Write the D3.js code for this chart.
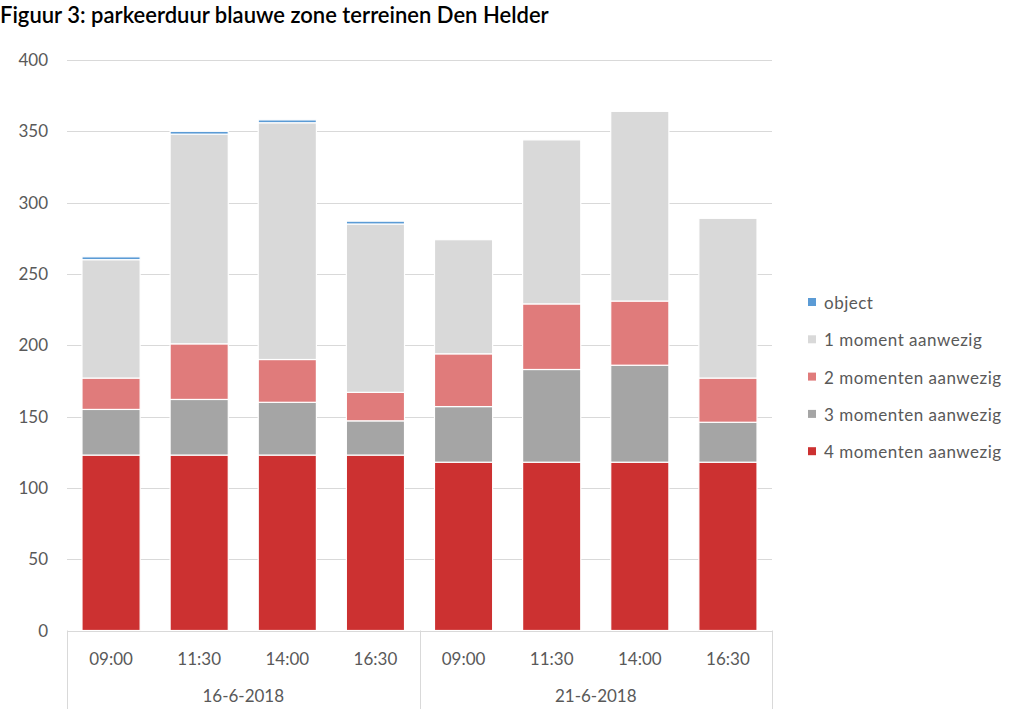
<!DOCTYPE html>
<html>
<head>
<meta charset="utf-8">
<script src="https://cdn.jsdelivr.net/npm/d3@7"></script>
<style>
  body { margin: 0; background: #fff; }
  svg text { font-family: Lato, "Noto Sans", sans-serif; }
</style>
</head>
<body>
<div id="chart"></div>
<script>
(function(d3) {
    'use strict';

    // Data
    var times = ['09:00', '11:30', '14:00', '16:30', '09:00', '11:30', '14:00', '16:30'];
    var dates = ['16-6-2018', '21-6-2018'];
    var seriesNames = ['4 momenten aanwezig', '3 momenten aanwezig', '2 momenten aanwezig',
        '1 moment aanwezig', 'object'];
    var vier = [123, 123, 123, 123, 118, 118, 118, 118];
    var drie = [32, 39, 37, 24, 39, 65, 68, 28];
    var twee = [22, 39, 30, 20, 37, 46, 45, 31];
    var een = [83, 147, 166, 118, 80, 115, 133, 112];
    var object = [2, 2, 2, 2, 0, 0, 0, 0];
    var yTicks = [0, 50, 100, 150, 200, 250, 300, 350, 400];

    var colors = ['#cc3131', '#a5a5a5', '#e07b7b', '#d9d9d9', '#5b9bd5'];

    var width = 1024;
    var height = 709;
    var left = 67, right = 772, top = 60, bottom = 630.5;

    var svg = d3.select('#chart')
        .append('svg')
        .attr('width', width)
        .attr('height', height);

    // Title
    svg.append('text')
        .attr('x', 0)
        .attr('y', 23)
        .style('font-size', '22px')
        .style('font-weight', '600')
        .style('fill', '#000')
        .text('Figuur 3: parkeerduur blauwe zone terreinen Den Helder');

    // Build table for stacking
    var table = times.map(function(t, i) {
        return { idx: i, s0: vier[i], s1: drie[i], s2: twee[i], s3: een[i], s4: object[i] };
    });
    var stack = d3.stack().keys(['s0', 's1', 's2', 's3', 's4']);
    var layers = stack(table);

    var x = d3.scaleBand()
        .domain(d3.range(times.length))
        .range([left, right])
        .paddingInner(0.34)
        .paddingOuter(0.17);

    var y = d3.scaleLinear()
        .domain([0, 400])
        .range([bottom, top]);

    // Gridlines
    svg.append('g')
        .selectAll('line')
        .data(yTicks.slice(1))
        .enter()
        .append('line')
        .attr('x1', left)
        .attr('x2', right)
        .attr('y1', function(d) { return Math.round(y(d)) + 0.5; })
        .attr('y2', function(d) { return Math.round(y(d)) + 0.5; })
        .style('stroke', '#d9d9d9')
        .style('stroke-width', 1);

    // Y tick labels
    svg.append('g')
        .selectAll('text')
        .data(yTicks)
        .enter()
        .append('text')
        .attr('x', 48)
        .attr('y', function(d) { return y(d) + 6; })
        .attr('text-anchor', 'end')
        .style('font-size', '17px')
        .style('fill', '#595959')
        .text(function(d) { return d; });

    // Bars
    svg.append('g')
        .selectAll('g')
        .data(layers)
        .enter()
        .append('g')
        .attr('fill', function(d, i) { return colors[i]; })
        .selectAll('rect')
        .data(function(d) { return d; })
        .enter()
        .filter(function(d) { return d[1] - d[0] > 0; })
        .append('rect')
        .attr('x', function(d) { return x(d.data.idx); })
        .attr('width', x.bandwidth())
        .attr('y', function(d) { return y(d[1]); })
        .attr('height', function(d) { return y(d[0]) - y(d[1]); })
        .style('stroke', '#fff')
        .style('stroke-width', 1.2);

    // X axis line and category separators
    var axis = svg.append('g');
    axis.append('line')
        .attr('x1', left).attr('x2', right)
        .attr('y1', Math.round(bottom) + 0.5).attr('y2', Math.round(bottom) + 0.5)
        .style('stroke', '#d9d9d9');

    var step = x.step();
    var groupSize = times.length / dates.length;
    var seps = d3.range(dates.length + 1).map(function(i) { return left + i * groupSize * step; });
    axis.selectAll('.sep')
        .data(seps)
        .enter()
        .append('line')
        .attr('class', 'sep')
        .attr('x1', function(d) { return Math.round(d) + 0.5; })
        .attr('x2', function(d) { return Math.round(d) + 0.5; })
        .attr('y1', bottom)
        .attr('y2', height)
        .style('stroke', '#d9d9d9');

    axis.selectAll('.time')
        .data(times)
        .enter()
        .append('text')
        .attr('class', 'time')
        .attr('x', function(d, i) { return x(i) + x.bandwidth() / 2; })
        .attr('y', 665)
        .attr('text-anchor', 'middle')
        .style('font-size', '17px')
        .style('fill', '#595959')
        .text(function(d) { return d; });

    axis.selectAll('.date')
        .data(dates)
        .enter()
        .append('text')
        .attr('class', 'date')
        .attr('x', function(d, i) { return (seps[i] + seps[i + 1]) / 2; })
        .attr('y', 702)
        .attr('text-anchor', 'middle')
        .style('font-size', '17px')
        .style('fill', '#595959')
        .text(function(d) { return d; });

    // Legend (top entry is 'object')
    var legendOrder = [4, 3, 2, 1, 0];
    var legend = svg.selectAll('.legend')
        .data(legendOrder)
        .enter()
        .append('g')
        .attr('class', 'legend')
        .attr('transform', function(d, i) {
            return 'translate(808,' + (303 + i * 37.3) + ')';
        });

    legend.append('rect')
        .attr('x', 0)
        .attr('y', -5)
        .attr('width', 8)
        .attr('height', 8)
        .style('fill', function(d) { return colors[d]; });

    legend.append('text')
        .attr('x', 16)
        .attr('y', 6)
        .style('font-size', '17px')
        .style('fill', '#595959')
        .style('letter-spacing', '0.5px')
        .text(function(d) { return seriesNames[d]; });

})(window.d3);
</script>
</body>
</html>
